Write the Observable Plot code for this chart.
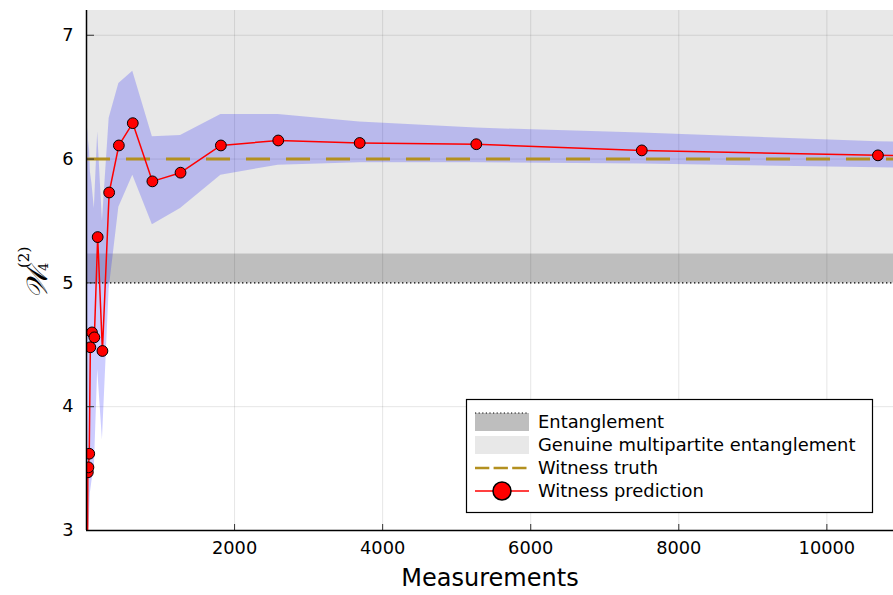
<!DOCTYPE html>
<html><head><meta charset="utf-8">
<script src="https://cdn.jsdelivr.net/npm/d3@7"></script>
<script src="https://cdn.jsdelivr.net/npm/@observablehq/plot@0.6"></script>
<style>
body{margin:0;background:#fff}
#chart{position:relative;width:893px;height:595px}
</style>
</head><body><div id="chart"></div>
<script>
// ---- data ----
const measurements = [13, 18, 26, 37, 52, 74, 106, 151, 215, 306, 437, 625, 890, 1270, 1815, 2590, 3690, 5265, 7500, 10690, 15230];
const prediction   = [2.6, 3.47, 3.51, 3.62, 4.48, 4.60, 4.56, 5.37, 4.45, 5.73, 6.11, 6.29, 5.82, 5.89, 6.11, 6.15, 6.13, 6.12, 6.07, 6.03, 6.00];
const bandLower    = [2.5, 2.9, 3.0, 3.05, 3.3, 3.4, 3.5, 4.3, 3.73, 4.95, 5.61, 5.87, 5.47, 5.60, 5.87, 5.95, 5.97, 5.97, 5.96, 5.93, 5.90];
const bandUpper    = [6.2, 6.25, 6.05, 6.15, 5.9, 5.8, 5.6, 6.22, 5.5, 6.33, 6.61, 6.71, 6.18, 6.19, 6.36, 6.36, 6.30, 6.25, 6.21, 6.14, 6.08];
const witnessTruth = 6;
const entanglementBound = 5;
const gmeBound = 5.234;
const xTicks = [2000, 4000, 6000, 8000, 10000];
const yTicks = [3, 4, 5, 6, 7];
const xDomain = [0, 10900];
const yDomain = [3, 7.2];
const legendLabels = ["Entanglement", "Genuine multipartite entanglement", "Witness truth", "Witness prediction"];
const xLabel = "Measurements";

const data = measurements.map((m, i) => ({m, y: prediction[i], lo: bandLower[i], hi: bandUpper[i]}));

const gold = "#b3901f";
const plot = Plot.plot({
  width: 893, height: 595,
  marginLeft: 86, marginRight: 0, marginTop: 10, marginBottom: 65,
  x: {domain: xDomain},
  y: {domain: yDomain},
  style: {fontFamily: "DejaVu Sans", fontSize: "17.5px", background: "white", color: "black"},
  marks: [
    Plot.rect([{a: gmeBound, b: yDomain[1]}], {x1: () => xDomain[0], x2: () => xDomain[1], y1: "a", y2: "b", fill: "#e8e8e8"}),
    Plot.rect([{a: entanglementBound, b: gmeBound}], {x1: () => xDomain[0], x2: () => xDomain[1], y1: "a", y2: "b", fill: "#bebebe"}),
    Plot.gridX(xTicks, {stroke: "black", strokeOpacity: 0.1, strokeWidth: 1}),
    Plot.gridY(yTicks, {stroke: "black", strokeOpacity: 0.1, strokeWidth: 1}),
    Plot.areaY(data, {x: "m", y1: "lo", y2: "hi", fill: "blue", fillOpacity: 0.2, clip: true}),
    Plot.ruleY([entanglementBound], {stroke: "black", strokeWidth: 1.4, strokeDasharray: "1.4,2.6"}),
    Plot.ruleY([witnessTruth], {stroke: gold, strokeWidth: 3, strokeDasharray: "24,16"}),
    Plot.line(data, {x: "m", y: "y", stroke: "red", strokeWidth: 1.5, clip: true}),
    Plot.dot(data, {x: "m", y: "y", r: 5.4, fill: "red", stroke: "black", strokeWidth: 1, clip: true}),
    Plot.axisX({ticks: xTicks, tickSize: -6, tickPadding: 17, label: null, stroke: "#333", fontSize: 17.8, tickFormat: d3.format("d")}),
    Plot.axisY({ticks: yTicks, tickSize: -8, tickPadding: 21, label: null, stroke: "#333", fontSize: 17.8, tickFormat: d3.format("d")}),
    Plot.ruleX([xDomain[0]], {stroke: "black", strokeWidth: 1.5}),
    Plot.ruleY([yDomain[0]], {stroke: "black", strokeWidth: 1.5}),
    Plot.text([xLabel], {frameAnchor: "bottom", dy: 55, fontSize: 24, text: d => d, fill: "black"})
  ]
});
document.getElementById("chart").appendChild(plot);

// ---- y-axis label (rotated) ----
const svg = d3.select(plot);
const yl = svg.append("g").attr("transform", "rotate(-90)").attr("fill", "black").attr("text-anchor", "start");
yl.append("text").attr("x", -299).attr("y", 47).attr("font-family", "DejaVu Serif").attr("font-style", "italic").attr("font-size", 29).text("𝒲");
yl.append("text").attr("x", -268).attr("y", 29).attr("font-family", "DejaVu Serif").attr("font-size", 15).text("(2)");
yl.append("text").attr("x", -271).attr("y", 48).attr("font-family", "DejaVu Serif").attr("font-size", 13).text("4");

// ---- legend ----
const lg = svg.append("g").attr("font-family", "DejaVu Sans").attr("font-size", 17.9).attr("text-anchor", "start");
lg.append("rect").attr("x", 466.5).attr("y", 399.5).attr("width", 406).attr("height", 113).attr("fill", "white").attr("stroke", "black").attr("stroke-width", 1.2);
const rowY = [422, 445, 468, 491];
const sx1 = 475, sx2 = 529, tx = 538;
lg.append("rect").attr("x", sx1).attr("y", rowY[0] - 9).attr("width", sx2 - sx1).attr("height", 18).attr("fill", "#bebebe");
lg.append("line").attr("x1", sx1).attr("x2", sx2).attr("y1", rowY[0] - 9).attr("y2", rowY[0] - 9).attr("stroke", "black").attr("stroke-width", 1.2).attr("stroke-dasharray", "1.2,2.4");
lg.append("rect").attr("x", sx1).attr("y", rowY[1] - 9).attr("width", sx2 - sx1).attr("height", 18).attr("fill", "#e8e8e8");
lg.append("line").attr("x1", sx1).attr("x2", sx2).attr("y1", rowY[2]).attr("y2", rowY[2]).attr("stroke", gold).attr("stroke-width", 2.5).attr("stroke-dasharray", "14.3,4.3");
lg.append("line").attr("x1", sx1).attr("x2", sx2).attr("y1", rowY[3]).attr("y2", rowY[3]).attr("stroke", "red").attr("stroke-width", 1.5);
lg.append("circle").attr("cx", (sx1 + sx2) / 2).attr("cy", rowY[3]).attr("r", 9).attr("fill", "red").attr("stroke", "black").attr("stroke-width", 1.5);
legendLabels.forEach((t, i) => {
  lg.append("text").attr("x", tx).attr("y", rowY[i]).attr("dy", "0.35em").attr("fill", "black").text(t);
});
</script>
</body></html>
